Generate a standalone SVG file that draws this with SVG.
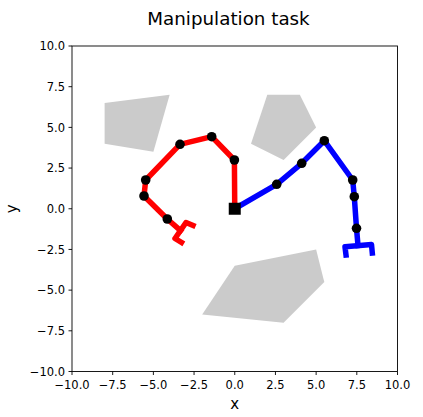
<svg xmlns="http://www.w3.org/2000/svg" width="423" height="417" viewBox="0 0 423 417">
<style>
text{font-family:"DejaVu Sans","Liberation Sans",sans-serif;fill:#000}
.tick{font-size:11.5px}
.obs{fill:#cbcbcb;stroke:none}
.arm{fill:none;stroke-width:5.5;stroke-linecap:square;stroke-linejoin:round}
.red{stroke:#ff0000}
.blue{stroke:#0000ff}
.joint{fill:#000}
.tm{stroke:#000;stroke-width:0.9}
</style>
<rect width="423" height="417" fill="#fff"/>
<text x="228.5" y="25" font-size="18.3" text-anchor="middle">Manipulation task</text>
<g id="obstacles">
<polygon id="obstacle1" class="obs" points="104.6,102.9 169.65,94.8 153.4,151.8 104.6,143.65"/>
<polygon id="obstacle2" class="obs" points="267.3,94.8 299.85,94.8 316.1,127.4 283.6,160 251,143.65"/>
<polygon id="obstacle3" class="obs" points="234.75,265.7 316.1,249.4 324.3,282 283.6,322.7 202.2,314.5"/>
</g>
<g id="connectors">
<polyline class="arm red" points="234.75,208.75 234.4,160 211.7,136.7 180,144.3 145.7,180 144,196 167.3,219 180.5,230.5"/>
<polyline class="arm red" points="181.5,242.5 175,238.5 186,222.5 193,225.5"/>
<polyline class="arm blue" points="234.75,208.75 276.7,184.3 301.7,163.3 324.3,140.7 352.7,180 354.3,196.7 356.5,228.3 358,245.6"/>
<polyline class="arm blue" points="346,255 345,246.8 371.5,244.5 372.3,253"/>
</g>
<g id="red-joints">
<circle class="joint" cx="234.4" cy="160" r="4.8"/>
<circle class="joint" cx="211.7" cy="136.7" r="4.8"/>
<circle class="joint" cx="180" cy="144.3" r="4.8"/>
<circle class="joint" cx="145.7" cy="180" r="4.8"/>
<circle class="joint" cx="144" cy="196" r="4.8"/>
<circle class="joint" cx="167.3" cy="219" r="4.8"/>
</g>
<g id="blue-joints">
<circle class="joint" cx="276.7" cy="184.3" r="4.8"/>
<circle class="joint" cx="301.7" cy="163.3" r="4.8"/>
<circle class="joint" cx="324.3" cy="140.7" r="4.8"/>
<circle class="joint" cx="352.7" cy="180" r="4.8"/>
<circle class="joint" cx="354.3" cy="196.7" r="4.8"/>
<circle class="joint" cx="356.5" cy="228.3" r="4.8"/>
</g>
<g id="base"><rect x="228.75" y="202.75" width="12" height="12" fill="#000"/></g>
<g id="axes">
<rect x="72" y="46" width="325.5" height="325.5" fill="none" stroke="#000" stroke-width="0.9"/>
<g class="tm">
<line x1="72" y1="371.5" x2="72" y2="375"/><line x1="112.69" y1="371.5" x2="112.69" y2="375"/><line x1="153.38" y1="371.5" x2="153.38" y2="375"/><line x1="194.06" y1="371.5" x2="194.06" y2="375"/><line x1="234.75" y1="371.5" x2="234.75" y2="375"/><line x1="275.44" y1="371.5" x2="275.44" y2="375"/><line x1="316.13" y1="371.5" x2="316.13" y2="375"/><line x1="356.81" y1="371.5" x2="356.81" y2="375"/><line x1="397.5" y1="371.5" x2="397.5" y2="375"/>
<line x1="68.5" y1="371.5" x2="72" y2="371.5"/><line x1="68.5" y1="330.81" x2="72" y2="330.81"/><line x1="68.5" y1="290.13" x2="72" y2="290.13"/><line x1="68.5" y1="249.44" x2="72" y2="249.44"/><line x1="68.5" y1="208.75" x2="72" y2="208.75"/><line x1="68.5" y1="168.06" x2="72" y2="168.06"/><line x1="68.5" y1="127.38" x2="72" y2="127.38"/><line x1="68.5" y1="86.69" x2="72" y2="86.69"/><line x1="68.5" y1="46" x2="72" y2="46"/>
</g>
<g class="tick" text-anchor="middle">
<text x="72" y="389">−10.0</text><text x="112.69" y="389">−7.5</text><text x="153.38" y="389">−5.0</text><text x="194.06" y="389">−2.5</text><text x="234.75" y="389">0.0</text><text x="275.44" y="389">2.5</text><text x="316.13" y="389">5.0</text><text x="356.81" y="389">7.5</text><text x="397.5" y="389">10.0</text>
</g>
<g class="tick" text-anchor="end">
<text x="65" y="375.7">−10.0</text><text x="65" y="335">−7.5</text><text x="65" y="294.3">−5.0</text><text x="65" y="253.6">−2.5</text><text x="65" y="212.9">0.0</text><text x="65" y="172.2">2.5</text><text x="65" y="131.5">5.0</text><text x="65" y="90.9">7.5</text><text x="65" y="50.2">10.0</text>
</g>
<text x="234.75" y="409" font-size="15" text-anchor="middle">x</text>
<text transform="translate(17,208.75) rotate(-90)" font-size="15" text-anchor="middle">y</text>
</g>
</svg>
